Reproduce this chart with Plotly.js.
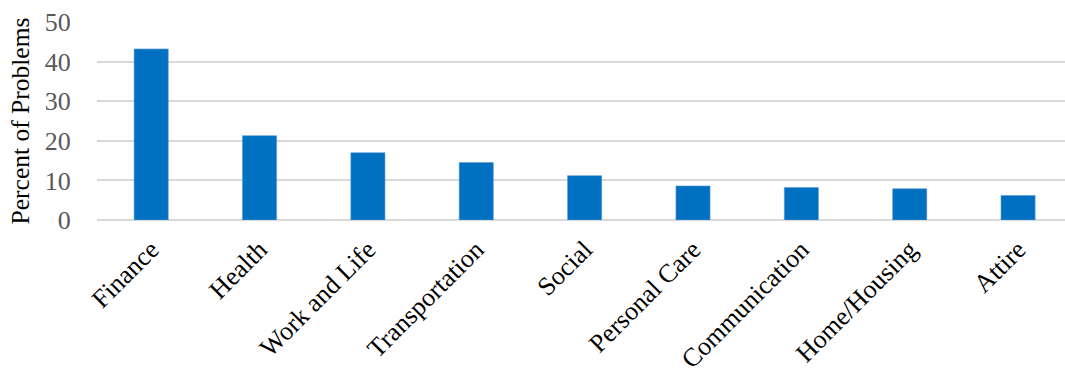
<!DOCTYPE html>
<html>
<head>
<meta charset="utf-8">
<script src="https://cdn.plot.ly/plotly-3.0.1.min.js"></script>
<style>html,body{margin:0;padding:0;background:#fff;}#chart{width:1065px;height:373px;}</style>
</head>
<body>
<div id="chart"></div>
<script>
const categories = ["Finance", "Health", "Work and Life", "Transportation", "Social", "Personal Care", "Communication", "Home/Housing", "Attire"];
const percentOfProblems = [43.2, 21.3, 17.0, 14.5, 11.2, 8.6, 8.2, 7.9, 6.2];
const yTickValues = [0, 10, 20, 30, 40, 50];

const serif = "Liberation Serif, Times New Roman, serif";

const trace = {
  type: "bar",
  x: categories,
  y: percentOfProblems,
  width: 0.315,
  marker: {color: "#0070c0", line: {color: "#5b9bd5", width: 0.6}},
  hoverinfo: "skip"
};

const layout = {
  width: 1065,
  height: 373,
  margin: {l: 97, r: 0, t: 22, b: 153},
  paper_bgcolor: "#ffffff",
  plot_bgcolor: "#ffffff",
  showlegend: false,
  font: {family: serif, size: 26, color: "#000"},
  xaxis: {
    type: "category",
    range: [-0.5, 8.433],
    tickangle: -45,
    ticks: "outside",
    ticklen: 3,
    tickcolor: "rgba(0,0,0,0)",
    showgrid: false,
    showline: false,
    zeroline: false,
    tickfont: {family: serif, size: 26, color: "#000"}
  },
  yaxis: {
    range: [0, 50],
    tickvals: yTickValues,
    ticktext: yTickValues.map(String),
    showgrid: true,
    gridcolor: "#d9d9d9",
    gridwidth: 2,
    zeroline: true,
    zerolinecolor: "#d9d9d9",
    zerolinewidth: 2,
    showline: false,
    ticks: "outside",
    ticklen: 20,
    tickcolor: "rgba(0,0,0,0)",
    tickfont: {family: serif, size: 26, color: "#595959"},
    title: {text: "Percent of Problems", font: {family: serif, size: 25.5, color: "#000"}, standoff: 7}
  }
};

Plotly.newPlot("chart", [trace], layout, {staticPlot: true, displayModeBar: false});
</script>
</body>
</html>
